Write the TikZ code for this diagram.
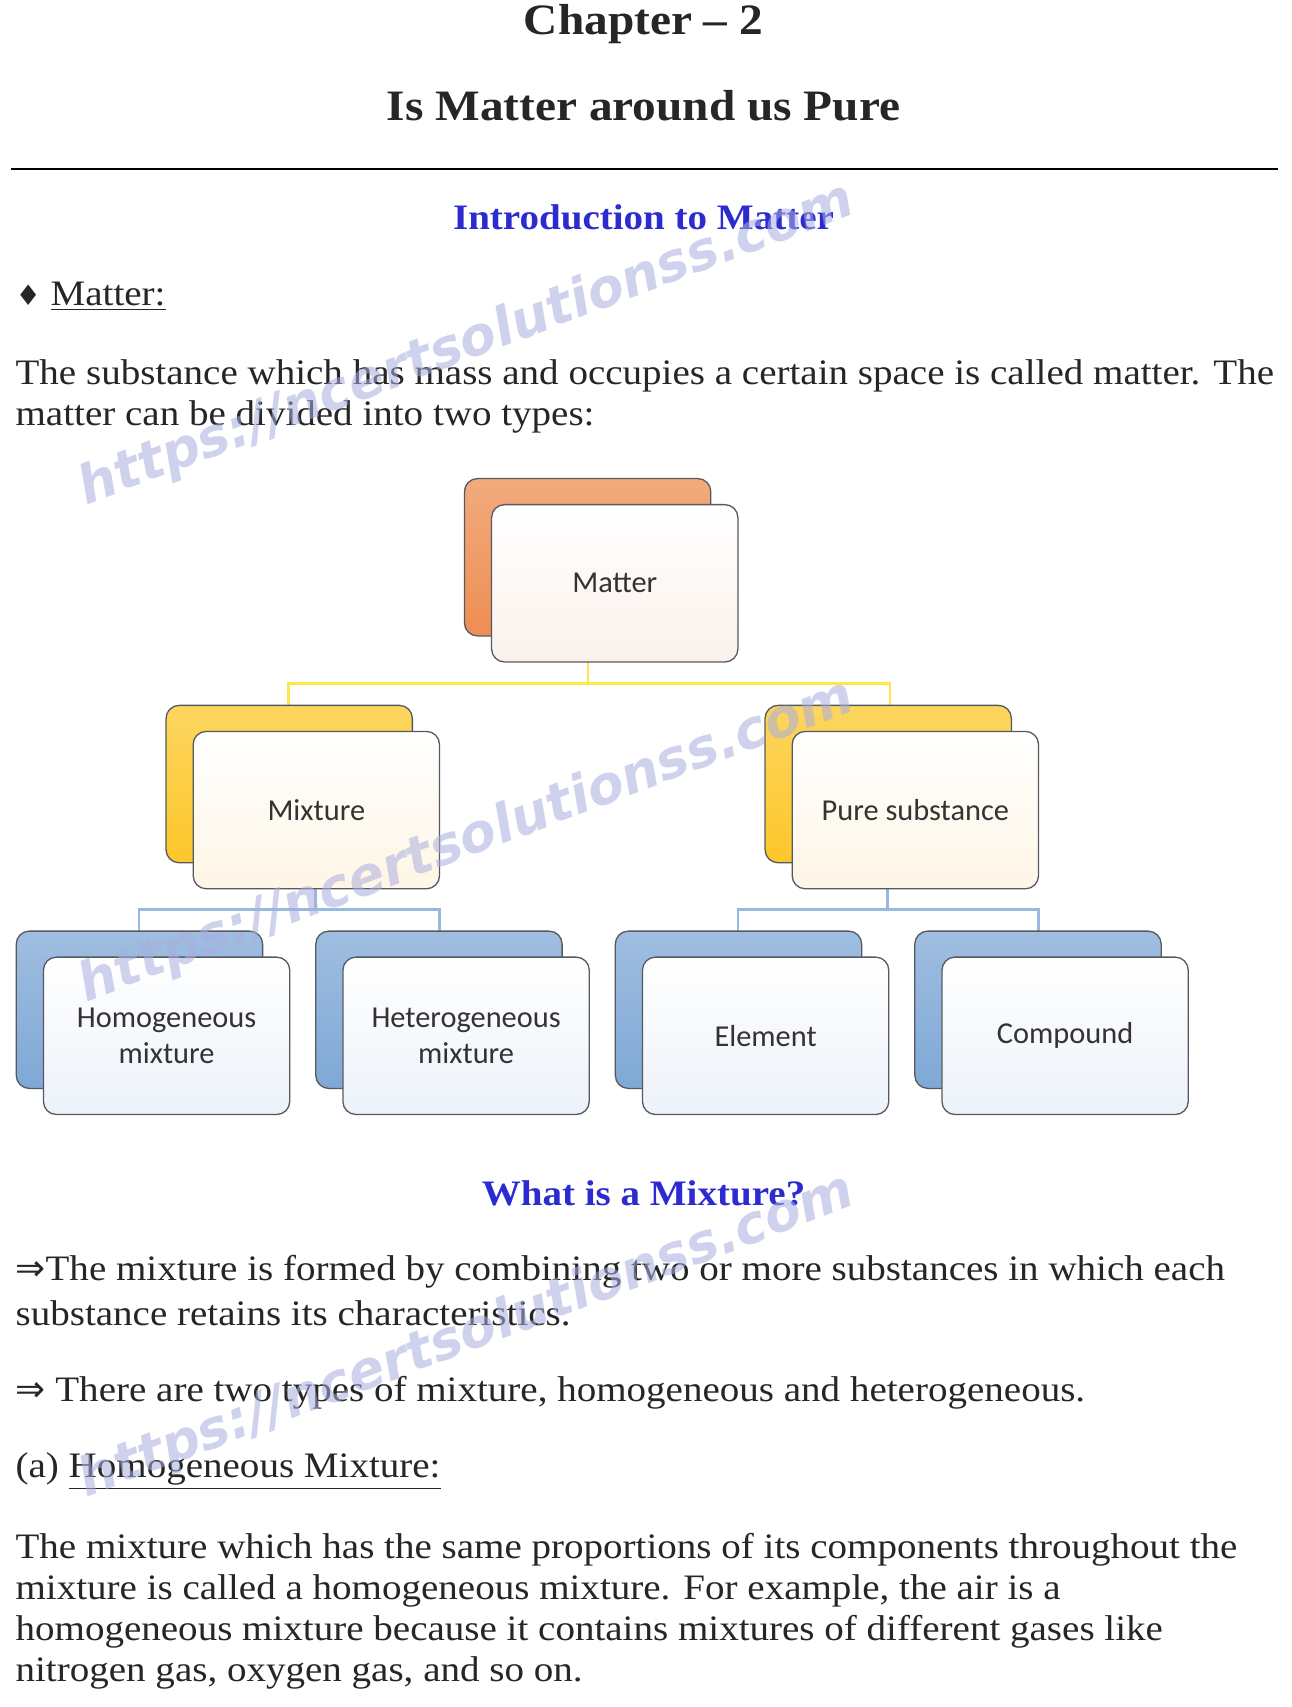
\documentclass[tikz,border=0pt]{standalone}
\usepackage{fontspec}
\setmainfont[FakeStretch=1.09]{Liberation Serif}
\newfontfamily\diafont{Carlito}
\newfontfamily\wmfont{DejaVu Sans}
\newfontfamily\symfont{DejaVu Sans}
\definecolor{ttlblue}{HTML}{2B2BD0}
\definecolor{orbk}{HTML}{EE8E52}
\definecolor{yebk}{HTML}{FDC72A}
\definecolor{blbk}{HTML}{7FA8D6}
\definecolor{orfr}{HTML}{FBF1EC}
\definecolor{yefr}{HTML}{FEF6E6}
\definecolor{blfr}{HTML}{EDF2FA}
\definecolor{edge}{HTML}{555A60}
\definecolor{wm}{HTML}{A9AEE0}
\begin{document}
\begin{tikzpicture}[x=0.5pt,y=-0.5pt,
  body/.style={anchor=west,inner sep=0,font=\fontsize{16.5}{19}\selectfont,text=black!85},
  head/.style={inner sep=0,font=\fontsize{20}{23}\selectfont\bfseries,text=black!85},
  blu/.style={inner sep=0,text=ttlblue,font=\fontsize{16.5}{19}\selectfont\bfseries},
  back/.style={draw=edge,line width=0.6pt,rounded corners=6pt},
  front/.style={draw=edge,line width=0.6pt,rounded corners=6pt},
  lbl/.style={font=\diafont\fontsize{14}{17}\selectfont,text=black!80,align=center},
  wmk/.style={text=wm,opacity=0.55,rotate=20.8,font=\wmfont\fontsize{24.5}{28}\selectfont\bfseries\itshape}]
\useasboundingbox (0,0) rectangle (1190,1573);
\fill[white] (0,0) rectangle (1190,1573);
% headings
\node[head] (ch) at (593,22) {Chapter -- 2};
\node[head] (ti) at (593,97) {Is Matter around us Pure};
\draw[line width=1pt] (10,156) -- (1178,156);
\node[blu] (intro) at (593,200) {Introduction to Matter};
\node[body] (mat) at (14,273) {{\symfont\fontsize{13}{15}\selectfont ♦} \underline{Matter:}};
\node[body] (p1) at (14,346) {The substance which has mass and occupies a certain space is called matter. The};
\node[body] (p2) at (14,384) {matter can be divided into two types:};
% connectors
\draw[yellow!80!orange!70,line width=1.2pt] (542,610) -- (542,630) (266,650) -- (266,630) -- (820,630) -- (820,650);
\draw[blbk!80,line width=1.2pt] (291,819) -- (291,838) (128,858) -- (128,838) -- (405,838) -- (405,858);
\draw[blbk!80,line width=1.2pt] (818,819) -- (818,838) (680,858) -- (680,838) -- (957,838) -- (957,858);
% boxes
\newcommand\boxpair[6]{%
  \draw[back,top color=#3!75,bottom color=#3] (#1,#2) rectangle ++(227,145);
  \draw[front,top color=white,bottom color=#4] (#1+25,#2+24) rectangle ++(227,145);
  \node[lbl] (#5) at (#1+138.5,#2+96.5) {#6};}
\boxpair{428}{441}{orbk}{orfr}{nmatter}{Matter}
\boxpair{153}{650}{yebk}{yefr}{nmix}{Mixture}
\boxpair{705}{650}{yebk}{yefr}{npure}{Pure substance}
\boxpair{15}{858}{blbk}{blfr}{nhom}{Homogeneous\\mixture}
\boxpair{291}{858}{blbk}{blfr}{nhet}{Heterogeneous\\mixture}
\boxpair{567}{858}{blbk}{blfr}{nel}{Element}
\boxpair{843}{858}{blbk}{blfr}{ncomp}{Compound}
% lower text
\node[blu] (what) at (593,1100) {What is a Mixture?};
\node[body] (q1) at (14,1172) {{\symfont ⇒}The mixture is formed by combining two or more substances in which each};
\node[body] (q2) at (14,1210) {substance retains its characteristics.};
\node[body] (q3) at (14,1283) {{\symfont ⇒} There are two types of mixture, homogeneous and heterogeneous.};
\node[body] (q4) at (14,1356) {(a) \underline{Homogeneous Mixture:}};
\node[body] (q5) at (14,1428) {The mixture which has the same proportions of its components throughout the};
\node[body] (q6) at (14,1466) {mixture is called a homogeneous mixture. For example, the air is a};
\node[body] (q7) at (14,1504) {homogeneous mixture because it contains mixtures of different gases like};
\node[body] (q8) at (14,1542) {nitrogen gas, oxygen gas, and so on.};
% watermarks
\node[wmk] (w1) at (430,318) {https://ncertsolutionss.com};
\node[wmk] (w2) at (430,776) {https://ncertsolutionss.com};
\node[wmk] (w3) at (430,1232) {https://ncertsolutionss.com};
\end{tikzpicture}
\end{document}
